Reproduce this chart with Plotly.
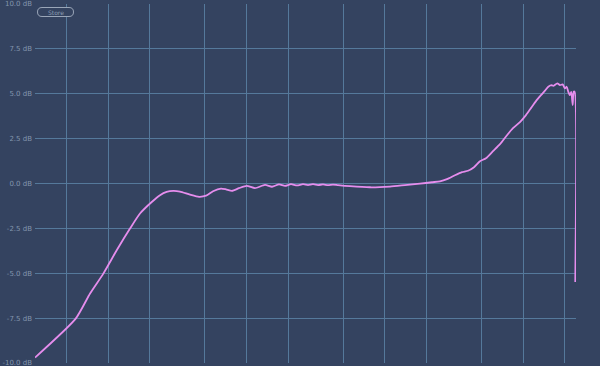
import numpy as np
import plotly.graph_objects as go

# Frequency response (Hz, dB)
freq_hz = [2.95, 5.81, 7.38, 9.20, 11.5, 14.35, 16.95, 20.6, 23.65, 26.4, 29.5, 33.0,
           38.97, 45.3, 50.9, 57.2, 65.3, 71.0, 78.4, 88.1, 100.2, 115.0, 135.8, 152.7,
           171.6, 189.6, 209.5, 231.4, 255.7, 278.0, 302.1, 328.4, 356.8, 387.8, 421.4,
           458.1, 559.3, 780.4, 1089, 1397, 1794, 2191, 2503, 2812, 3213, 3610, 3990,
           4410, 4871, 5383, 6047, 6796, 7637, 8441, 9482, 10477, 11387, 12377, 13450,
           14374, 15190, 16075, 16510, 17645, 18460, 19305, 20060, 20635, 21195, 21800,
           22275, 22800, 23180, 23570, 23810]
gain_db = [-9.70, -7.53, -6.13, -5.02, -3.72, -2.51, -1.67, -1.03, -0.65, -0.47, -0.41, -0.45,
           -0.62, -0.74, -0.68, -0.43, -0.28, -0.33, -0.41, -0.26, -0.13, -0.26, -0.08, -0.18,
           -0.05, -0.13, -0.04, -0.11, -0.04, -0.09, -0.04, -0.09, -0.05, -0.09, -0.06,
           -0.09, -0.15, -0.21, -0.17, -0.09, -0.01, 0.07, 0.12, 0.24, 0.46, 0.63, 0.71,
           0.91, 1.24, 1.41, 1.80, 2.19, 2.69, 3.08, 3.42, 3.81, 4.20, 4.59, 4.92,
           5.17, 5.39, 5.48, 5.44, 5.58, 5.48, 5.52, 5.30, 5.39, 5.11, 4.92,
           5.11, 4.37, 5.11, 5.11, -5.49]

grid_freqs = [2.95, 5, 10, 20, 50, 100, 200, 500, 1000, 2000, 5000, 10000, 20000, 24100]
y_ticks = [10, 7.5, 5, 2.5, 0, -2.5, -5, -7.5, -10]
y_tick_text = ["10.0 dB", "7.5 dB", "5.0 dB", "2.5 dB", "0.0 dB", "-2.5 dB", "-5.0 dB", "-7.5 dB", "-10.0 dB"]

BG = "#344360"
GRID = "#55799b"
CURVE = "#e68ded"
LABEL = "#8395ad"

W, H = 600, 366
ML, MR, MT, MB = 35, 24, 4, 3

fig = go.Figure()
fig.add_trace(go.Scatter(x=freq_hz, y=gain_db, mode="lines",
                         line=dict(color=CURVE, width=1.8, shape="spline", smoothing=0.6),
                         hoverinfo="skip", showlegend=False))

fig.update_xaxes(type="log", range=[np.log10(2.95), np.log10(24100)],
                 tickvals=grid_freqs, showticklabels=False, showgrid=True,
                 gridcolor=GRID, gridwidth=1, zeroline=False, showline=False, ticks="",
                 automargin=False)
fig.update_yaxes(range=[-10, 10], tickvals=y_ticks, ticktext=y_tick_text,
                 showgrid=True, gridcolor=GRID, gridwidth=1, zeroline=False,
                 showline=False, ticks="", ticklabelstandoff=2,
                 ticklabeloverflow="allow", automargin=False,
                 tickfont=dict(size=7, color=LABEL, family="DejaVu Sans"))

# "Store" button (rounded rectangle) in paper coordinates
pw, ph = W - ML - MR, H - MT - MB
def px(x): return (x - ML) / pw
def py(y): return (H - MB - y) / ph
x0, x1, y0, y1, r = 37.5, 73.5, 7.5, 16.5, 4.5
path = (f"M {px(x0+r)} {py(y0)} L {px(x1-r)} {py(y0)} Q {px(x1)} {py(y0)} {px(x1)} {py(y0+r)} "
        f"L {px(x1)} {py(y1-r)} Q {px(x1)} {py(y1)} {px(x1-r)} {py(y1)} "
        f"L {px(x0+r)} {py(y1)} Q {px(x0)} {py(y1)} {px(x0)} {py(y1-r)} "
        f"L {px(x0)} {py(y0+r)} Q {px(x0)} {py(y0)} {px(x0+r)} {py(y0)} Z")
fig.add_shape(type="path", path=path, xref="paper", yref="paper", layer="above",
              line=dict(color="#9aa6b8", width=1), fillcolor=BG)
fig.add_annotation(x=px((x0 + x1) / 2), y=py((y0 + y1) / 2), xref="paper", yref="paper",
                   xanchor="center", yanchor="middle", text="Store", showarrow=False,
                   font=dict(size=6, color="#8a9bb2", family="DejaVu Sans"))

fig.update_layout(width=W, height=H, margin=dict(l=ML, r=MR, t=MT, b=MB, autoexpand=False),
                  paper_bgcolor=BG, plot_bgcolor=BG)

fig.write_html("out.html")
